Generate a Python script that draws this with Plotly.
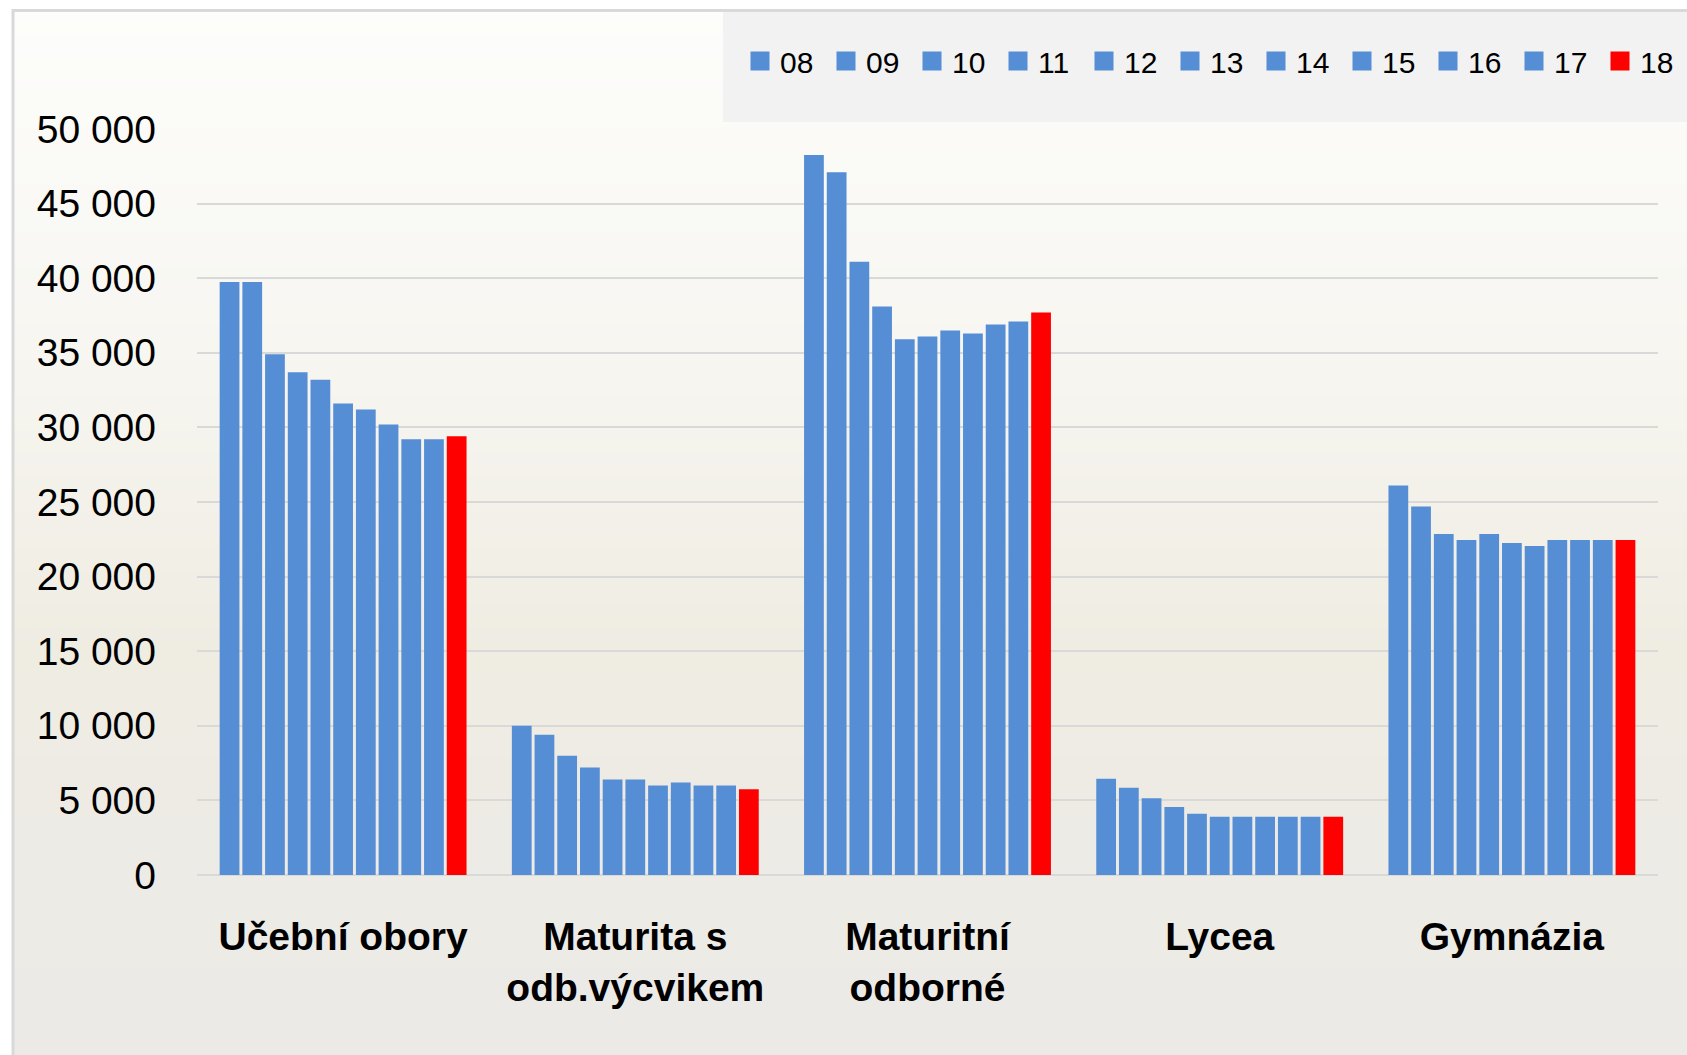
import plotly.graph_objects as go

# ---- data ----
categories = ["Učební obory", "Maturita s<br>odb.výcvikem", "Maturitní<br>odborné", "Lycea", "Gymnázia"]
years = ["08", "09", "10", "11", "12", "13", "14", "15", "16", "17", "18"]
y08 = [39750, 10000, 48250, 6450, 26100]
y09 = [39750, 9400, 47100, 5850, 24700]
y10 = [34900, 8000, 41100, 5150, 22850]
y11 = [33700, 7200, 38100, 4550, 22450]
y12 = [33200, 6400, 35900, 4100, 22850]
y13 = [31600, 6400, 36100, 3900, 22250]
y14 = [31200, 6000, 36500, 3900, 22050]
y15 = [30200, 6200, 36300, 3900, 22450]
y16 = [29200, 6000, 36900, 3900, 22450]
y17 = [29200, 6000, 37100, 3900, 22450]
y18 = [29400, 5750, 37700, 3900, 22450]
series = [y08, y09, y10, y11, y12, y13, y14, y15, y16, y17, y18]

BLUE = "#558ed5"
RED = "#ff0000"

W, H = 1687, 1055
ML, MR, MT, MB = 197, 29, 129, 180
PW, PH = W - ML - MR, H - MT - MB


def px2x(px):
    return (px - ML) / PW


def px2y(py):
    return (H - MB - py) / PH


fig = go.Figure()
for yr, vals in zip(years, series):
    c = RED if yr == "18" else BLUE
    fig.add_trace(go.Bar(
        x=categories, y=vals, name=yr, showlegend=False, legendgroup=yr,
        marker=dict(color=c, line=dict(width=0)),
    ))
# legend entries (larger square swatches than the default bar legend icon)
for yr in years:
    c = RED if yr == "18" else BLUE
    fig.add_trace(go.Scatter(
        x=[None], y=[None], mode="markers", name=yr, legendgroup=yr,
        marker=dict(symbol="square", size=16, color=c, line=dict(width=3, color=c)),
        hoverinfo="skip",
    ))

# background gradient bands + frame + legend box
stops = [(10, (253, 253, 251)), (350, (247, 246, 241)), (650, (239, 236, 226)),
         (870, (237, 235, 230)), (1055, (235, 234, 231))]


def col_at(py):
    for (a, ca), (b, cb) in zip(stops[:-1], stops[1:]):
        if a <= py <= b:
            t = (py - a) / (b - a)
            return tuple(round(ca[i] + (cb[i] - ca[i]) * t) for i in range(3))
    return stops[-1][1]


shapes = []
n = 90
top, bot = 10, 1060
for i in range(n):
    p0 = top + (bot - top) * i / n
    p1 = top + (bot - top) * (i + 1) / n + 0.6
    c = col_at(min((p0 + p1) / 2, 1055))
    shapes.append(dict(type="rect", xref="paper", yref="paper", layer="below",
                       x0=px2x(13), x1=px2x(1700), y0=px2y(p1), y1=px2y(p0),
                       fillcolor="rgb(%d,%d,%d)" % c, line=dict(width=0)))
shapes.append(dict(type="rect", xref="paper", yref="paper", layer="below",
                   x0=px2x(723), x1=px2x(1700), y0=px2y(122), y1=px2y(12),
                   fillcolor="#f2f2f2", line=dict(width=0)))
shapes.append(dict(type="rect", xref="paper", yref="paper", layer="below",
                   x0=px2x(13), x1=px2x(1700), y0=px2y(1070), y1=px2y(10.5),
                   fillcolor="rgba(0,0,0,0)", line=dict(color="#d9d9d9", width=3)))

fig.update_layout(
    width=W, height=H,
    margin=dict(l=ML, r=MR, t=MT, b=MB, pad=0),
    paper_bgcolor="white", plot_bgcolor="rgba(0,0,0,0)",
    barmode="group", bargap=0.145, bargroupgap=0.13,
    separators=", ",
    font=dict(family="Liberation Sans, Arial, sans-serif", color="#000000"),
    shapes=shapes,
    showlegend=True,
    legend=dict(orientation="h", xref="container", yref="container",
                x=740 / W, y=1 - 61 / H, xanchor="left", yanchor="middle",
                bgcolor="rgba(0,0,0,0)", font=dict(size=30, color="#000"),
                entrywidth=41, entrywidthmode="pixels", itemwidth=30,
                itemsizing="trace", traceorder="normal"),
    xaxis=dict(type="category", showgrid=False, showline=False, ticks="",
               tickfont=dict(size=39, family="Liberation Sans, Arial, sans-serif", color="#000", weight="bold"),
               ticklabelstandoff=35),
    yaxis=dict(range=[0, 50000], dtick=5000, tickformat=",d",
               showgrid=True, gridcolor="#d9d9d9", gridwidth=2,
               zeroline=True, zerolinecolor="#d9d9d9", zerolinewidth=2,
               showline=False, ticks="",
               tickfont=dict(size=39, color="#000"), ticklabelstandoff=40),
)

fig.write_html(
    "out.html",
    config={"displayModeBar": False},
    post_script="document.body.style.margin='0';document.body.style.overflow='hidden';",
)
